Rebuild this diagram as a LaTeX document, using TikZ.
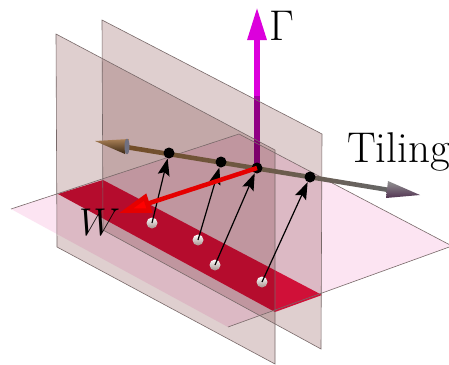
\documentclass[tikz,border=0pt]{standalone}
\usepackage{fix-cm}
\DeclareMathSizes{43}{43}{30}{22}
\usetikzlibrary{arrows.meta,calc}
\definecolor{planeH}{RGB}{252,228,242}
\definecolor{planeV}{RGB}{223,207,207}
\definecolor{stripC}{RGB}{208,16,56}
\definecolor{edgeC}{RGB}{120,105,105}
\definecolor{magC}{RGB}{220,0,220}
\definecolor{ballC}{RGB}{165,145,140}
\tikzset{
  x=1pt,y=-1pt,
  edge/.style={draw=edgeC,line width=0.6pt},
  vplane/.style={fill=planeV,blend mode=multiply},
  dotn/.style={circle,fill=black,inner sep=0pt,minimum size=11pt},
  ball/.style={circle,inner sep=0pt,minimum size=11pt,top color=white,middle color=white!92!ballC,bottom color=ballC},
  lift/.style={draw=black,line width=1.2pt,-{Stealth[length=17pt,width=12pt,inset=3pt]}},
  lab/.style={inner sep=0pt,font=\fontsize{43}{45}\selectfont}
}
\begin{document}
\begin{tikzpicture}
\useasboundingbox (0,0) rectangle (449,364);
\fill[white] (0,0) rectangle (449,364);
% named points
\coordinate (n1) at (169,153);
\coordinate (n2) at (221,162);
\coordinate (n3) at (257,168);
\coordinate (n4) at (310,177);
\coordinate (gtip) at (257,7);
\coordinate (wtip) at (119,213);
% horizontal plane
\fill[planeH] (11,209) -- (239,134) -- (452,246) -- (228,327) -- cycle;
% Gamma shaft under the planes
\draw[line width=6pt,draw=magC!75!black] (n3) -- (257,40);
% back plane
\fill[vplane] (102,20) -- (322,134) -- (321,349) -- (103,230) -- cycle;
% strip
\fill[stripC] (58,194) -- (103,180) -- (322,295) -- (275,312) -- cycle;
% front plane
\fill[vplane] (56,34) -- (275,150) -- (275,364) -- (57,247) -- cycle;
% outlines
\draw[edge] (11,209) -- (239,134) -- (452,246) (452,246) -- (228,327) -- cycle;
\draw[edge] (102,20) -- (322,134) -- (321,349) -- (103,230) -- cycle;
\draw[edge] (56,34) -- (275,150) -- (275,364) -- (57,247) -- cycle;
% Gamma head
\draw[line width=6pt,draw=magC,-{Triangle[length=33pt,width=18pt,fill=magC]}] (257,96) -- (gtip);
% Tiling axis shaft
\shade[left color=brown!60!black,middle color=black!75!brown,right color=gray!80!black]
  (128,145) -- (388,187.5) -- (387,192) -- (127,149.5) -- cycle;
% left cone
\shade[top color=brown!65!gray,bottom color=black!70!brown]
  (95,141) -- (129,139) -- (125,154) -- cycle;
\fill[black!45!blue!12!gray] (127,146.5) ellipse [x radius=2.5,y radius=7.8];
% right cone
\shade[top color=gray!85!white,bottom color=black!60!violet!60!gray]
  (420,195) -- (388,181) -- (386,198) -- cycle;
% spheres and tiling dots
\node[ball] (s1) at (152,223) {};
\node[ball] (s2) at (198,240) {};
\node[ball] (s3) at (215,265) {};
\node[ball] (s4) at (262,282) {};
\node[dotn] (d1) at (n1) {};
\node[dotn] (d2) at (n2) {};
\node[dotn] (d3) at (n3) {};
\node[dotn] (d4) at (n4) {};
% lifts
\draw[lift] (s1.center) -- (d1);
\draw[lift] (s2.center) -- (d2);
\draw[lift] (s3.center) -- (d3);
\draw[lift] (s4.center) -- (d4);
% W arrow
\draw[line width=4.5pt,draw=red!90!black,-{Triangle[length=32pt,width=19pt,fill=red]}] (d3.center) -- (wtip);
% labels
\node[lab,anchor=base west] (tl) at (347,162) {Tiling};
\node[lab,anchor=base west] (gl) at (269,40) {$\Gamma$};
\node[lab,anchor=base west,scale=.9] (wl) at (79,235) {$W$};
\end{tikzpicture}
\end{document}
